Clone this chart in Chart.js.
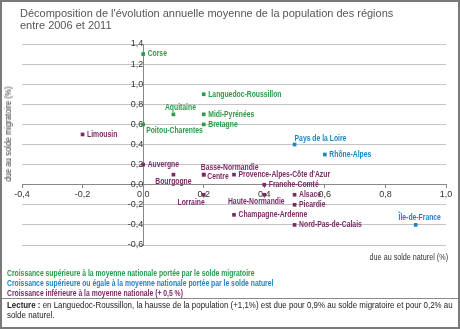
<!DOCTYPE html>
<html>
<head>
<meta charset="utf-8">
<script src="https://cdn.jsdelivr.net/npm/chart.js"></script>
<style>
  body { margin: 0; background: #fff; }
  #page { position: relative; width: 460px; height: 329px; overflow: hidden; font-family: "Liberation Sans", Arial, sans-serif; }
  #frame { position: absolute; left: 0; top: 0; width: 460px; height: 329px; box-sizing: border-box; border: 2px solid #7a7a7a; pointer-events: none; }
  #sep { position: absolute; left: 0; top: 298px; width: 460px; height: 1px; background: #8a8a8a; }
  canvas { position: absolute; left: 0; top: 0; }
  .t { position: absolute; white-space: nowrap; }
  #title { left: 20px; top: 8px; font-size: 11px; line-height: 11.5px; color: #555; }
  #ytitle { left: 8px; top: 134px; font-size: 9px; color: #333; transform: translate(-50%, -50%) rotate(-90deg) scaleX(0.86); }
  #xtitle { right: 12px; top: 252px; font-size: 9px; color: #333; transform: scaleX(0.8); transform-origin: right center; }
  #legend { left: 7px; top: 268px; font-weight: bold; font-size: 8.5px; line-height: 10.2px; transform: scaleX(0.8); transform-origin: left top; }
  #lecture { left: 7px; top: 301px; font-size: 8.8px; line-height: 9.5px; color: #222; transform: scaleX(0.9); transform-origin: left top; }
</style>
</head>
<body>
<div id="page">
  <canvas id="chart" width="460" height="329"></canvas>
  <div class="t" id="title">Décomposition de l'évolution annuelle moyenne de la population des régions<br>entre 2006 et 2011</div>
  <div class="t" id="ytitle">due au solde migratoire (%)</div>
  <div class="t" id="xtitle">due au solde naturel (%)</div>
  <div class="t" id="legend">
    <div style="color:#2a9a4a">Croissance supérieure à la moyenne nationale portée par le solde migratoire</div>
    <div style="color:#1e84c4">Croissance supérieure ou égale à la moyenne nationale portée par le solde naturel</div>
    <div style="color:#7c2a66">Croissance inférieure à la moyenne nationale (+ 0,5 %)</div>
  </div>
  <div id="sep"></div>
  <div class="t" id="lecture"><b>Lecture :</b> en Languedoc-Roussillon, la hausse de la population (+1,1%) est due pour 0,9% au solde migratoire et pour 0,2% au<br>solde naturel.</div>
  <div id="frame"></div>
</div>
<script>
// growth above national average, driven by migration
const greenNames = ["Corse", "Languedoc-Roussillon", "Aquitaine", "Midi-Pyrénées", "Bretagne", "Poitou-Charentes"];
const greenNaturel = [0.0, 0.2, 0.1, 0.2, 0.2, 0.0];
const greenMigratoire = [1.3, 0.9, 0.7, 0.7, 0.6, 0.6];

// growth above or equal to national average, driven by natural balance
const blueNames = ["Pays de la Loire", "Rhône-Alpes", "Île-de-France"];
const blueNaturel = [0.5, 0.6, 0.9];
const blueMigratoire = [0.4, 0.3, -0.4];

// growth below national average
const purpleNames = ["Limousin", "Auvergne", "Bourgogne", "Basse-Normandie", "Centre", "Lorraine",
  "Provence-Alpes-Côte d'Azur", "Franche-Comté", "Haute-Normandie", "Alsace", "Picardie",
  "Champagne-Ardenne", "Nord-Pas-de-Calais"];
const purpleNaturel = [-0.2, 0.0, 0.1, 0.2, 0.2, 0.2, 0.3, 0.4, 0.4, 0.5, 0.5, 0.3, 0.5];
const purpleMigratoire = [0.5, 0.2, 0.1, 0.1, 0.1, -0.1, 0.1, 0.0, -0.1, -0.1, -0.2, -0.3, -0.4];

const xTicks = [-0.4, -0.2, 0.0, 0.2, 0.4, 0.6, 0.8, 1.0];
const yTicks = [-0.6, -0.4, -0.2, 0.0, 0.2, 0.4, 0.6, 0.8, 1.0, 1.2, 1.4];

const GREEN = "#2a9a4a", BLUE = "#1e84c4", PURPLE = "#7c2a66";

// label placement around each marker: [dx, dy, align]
const labelPos = {
  "Aquitaine": [7, -7, "center"],
  "Poitou-Charentes": [3, 6, "left"],
  "Bourgogne": [0, 7, "center"],
  "Basse-Normandie": [-3, -7, "left"],
  "Centre": [3.5, 2, "left"],
  "Lorraine": [1, 8, "right"],
  "Haute-Normandie": [-8, 7, "center"],
  "Pays de la Loire": [0, -6, "left"],
  "Île-de-France": [4, -7, "center"]
};

function points(xs, ys) {
  return xs.map((x, i) => ({ x: x, y: ys[i] }));
}

function fmt(v) {
  return (Math.abs(v) < 1e-9 ? 0 : v).toFixed(1).replace(".", ",");
}

// condensed bold labels next to the markers
const labelPlugin = {
  id: "pointLabels",
  afterDatasetsDraw(chart) {
    const ctx = chart.ctx;
    chart.data.datasets.forEach((ds, di) => {
      const meta = chart.getDatasetMeta(di);
      meta.data.forEach((pt, i) => {
        const name = ds.names[i];
        const p = labelPos[name] || [4.5, 0, "left"];
        ctx.save();
        ctx.font = 'bold 8.5px "Liberation Sans", Arial, sans-serif';
        ctx.textBaseline = "middle";
        ctx.fillStyle = ds.borderColor;
        ctx.textAlign = p[2];
        ctx.translate(pt.x + p[0], pt.y + p[1]);
        ctx.scale(0.8, 1);
        ctx.fillText(name, 0, 0);
        ctx.restore();
      });
    });
  }
};

const set = (label, names, xs, ys, color) => ({
  label: label,
  names: names,
  data: points(xs, ys),
  backgroundColor: color,
  borderColor: color,
  pointStyle: "rect",
  pointRadius: 2.6,
  pointBorderWidth: 0
});

new Chart(document.getElementById("chart").getContext("2d"), {
  type: "scatter",
  data: {
    datasets: [
      set("migratoire", greenNames, greenNaturel, greenMigratoire, GREEN),
      set("naturel", blueNames, blueNaturel, blueMigratoire, BLUE),
      set("inférieure", purpleNames, purpleNaturel, purpleMigratoire, PURPLE)
    ]
  },
  options: {
    responsive: false,
    animation: false,
    layout: { padding: { left: 22, right: 14, top: 44, bottom: 84 } },
    plugins: { legend: { display: false }, tooltip: { enabled: false } },
    scales: {
      x: {
        type: "linear",
        position: { y: 0 },
        min: -0.4,
        max: 1.0,
        afterBuildTicks: axis => { axis.ticks = xTicks.map(v => ({ value: v })); },
        grid: { drawOnChartArea: false, drawTicks: true, tickLength: 3, color: "#888" },
        border: { color: "#888" },
        ticks: { callback: fmt, color: "#333", padding: 1, maxRotation: 0,
          font: { family: "Liberation Sans", size: 9 } }
      },
      y: {
        type: "linear",
        position: { x: 0 },
        min: -0.6,
        max: 1.4,
        afterBuildTicks: axis => { axis.ticks = yTicks.map(v => ({ value: v })); },
        grid: { color: "#c4c4c4", drawTicks: false },
        border: { color: "#888" },
        ticks: { callback: fmt, color: "#333", padding: 3,
          font: { family: "Liberation Sans", size: 9 } }
      }
    }
  },
  plugins: [labelPlugin]
});
</script>
</body>
</html>
